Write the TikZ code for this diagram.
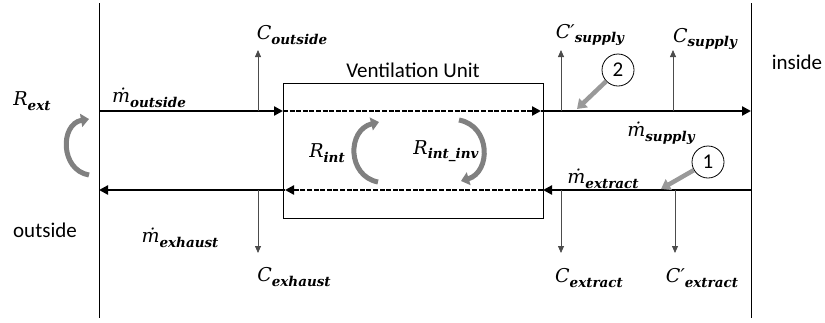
\documentclass[tikz,border=0pt]{standalone}
\usepackage{fontspec}
\setmainfont{Carlito}
\newfontfamily\symfont{DejaVu Serif}
\usetikzlibrary{arrows.meta}

% quantity with bold italic index
\newcommand{\qsym}[2]{{\symfont\itshape #1}\raisebox{-4.5pt}{\symfont\bfseries\itshape\fontsize{13.5}{15}\selectfont #2}}

\tikzset{
  flow/.style={line width=2.6pt, -{Triangle[length=9pt,width=9pt]}},
  dotflow/.style={flow, dash pattern=on 5pt off 1.6pt},
  conc/.style={line width=0.8pt, black!70, -{Triangle[length=7pt,width=6pt]}},
  turn/.style={line width=5pt, black!50, -{Triangle[length=8pt,width=13pt]}},
  pointer/.style={line width=4.5pt, black!40, -{Triangle[length=9pt,width=12pt]}},
  marker/.style={circle, draw, line width=0.8pt, minimum size=32pt, inner sep=0pt},
  qty/.style={inner sep=1pt, font=\fontsize{19}{22}\selectfont},
}

\begin{document}
\begin{tikzpicture}[x=1pt, y=-1pt, font=\fontsize{21}{25}\selectfont]
\useasboundingbox (0,0) rectangle (825,322);

% walls
\coordinate (OutTop) at (99,3);
\coordinate (OutBot) at (99,318);
\coordinate (InTop) at (751,3);
\coordinate (InBot) at (751,318);
\draw[line width=0.8pt] (OutTop) -- (OutBot);
\draw[line width=0.8pt] (InTop) -- (InBot);

% ventilation unit
\node[draw, line width=0.8pt, minimum width=260pt, minimum height=135pt, inner sep=0pt] (VU) at (413,150.5) {};
\node (VUlabel) at (413,70) {Ventilation Unit};

% supply side
\coordinate (SupA) at (99,111);
\coordinate (SupB) at (283,111);
\coordinate (SupC) at (541,111);
\coordinate (SupD) at (751,111);
\draw[flow] (SupA) -- (SupB);
\draw[dotflow] (SupB) -- (SupC);
\draw[flow] (SupC) -- (SupD);

% extract side
\coordinate (ExtA) at (751,190);
\coordinate (ExtB) at (543,190);
\coordinate (ExtC) at (285,190);
\coordinate (ExtD) at (99,190);
\draw[flow] (ExtA) -- (ExtB);
\draw[dotflow] (ExtB) -- (ExtC);
\draw[flow] (ExtC) -- (ExtD);

% concentrations
\coordinate (cOut) at (258,111);
\coordinate (cOutTip) at (258,50);
\coordinate (cExh) at (258,190);
\coordinate (cExhTip) at (258,253);
\coordinate (cSupP) at (561,111);
\coordinate (cSupPTip) at (561,50);
\coordinate (cSup) at (673,111);
\coordinate (cSupTip) at (673,50);
\coordinate (cExt) at (561,190);
\coordinate (cExtTip) at (561,253);
\coordinate (cExtP) at (675,190);
\coordinate (cExtPTip) at (675,253);
\draw[conc] (cOut) -- (cOutTip);
\draw[conc] (cExh) -- (cExhTip);
\draw[conc] (cSupP) -- (cSupPTip);
\draw[conc] (cSup) -- (cSupTip);
\draw[conc] (cExt) -- (cExtTip);
\draw[conc] (cExtP) -- (cExtPTip);

% labels
\node[qty] (Rext) at (32,101) {\qsym{R}{ext}};
\node[qty] (mOut) at (149,98) {\qsym{ṁ}{outside}};
\node (outside) at (45,230) {outside};
\node (inside) at (797,62) {inside};
\node[qty] (mExh) at (180,238) {\qsym{ṁ}{exhaust}};
\node[qty] (Cout) at (292,35) {\qsym{C}{outside}};
\node[qty] (Cexh) at (294,277) {\qsym{C}{exhaust}};
\node[qty] (Rint) at (327,153) {\qsym{R}{int}};
\node[qty] (Rinv) at (446,151) {\qsym{R}{int\_inv}};
\node[qty] (CsupP) at (590,35) {\qsym{C′}{supply}};
\node[qty] (Csup) at (705,39) {\qsym{C}{supply}};
\node[qty] (mSup) at (661,133) {\qsym{ṁ}{supply}};
\node[qty] (mExt) at (603,179) {\qsym{ṁ}{extract}};
\node[qty] (Cext) at (589,278) {\qsym{C}{extract}};
\node[qty] (CextP) at (702,278) {\qsym{C′}{extract}};

% recirculation
\coordinate (RextA) at (89,175);
\coordinate (RextB) at (89,119);
\draw[turn] (RextA) .. controls (60,170) and (60,124) .. (RextB);
\coordinate (RintA) at (378,182);
\coordinate (RintB) at (379,122);
\draw[turn] (RintA) .. controls (347,176) and (347,130) .. (RintB);
\coordinate (RinvA) at (459,120);
\coordinate (RinvB) at (461,181);
\draw[turn] (RinvA) .. controls (491,126) and (491,172) .. (RinvB);

% measuring points
\node[marker] (P2) at (618,70) {2};
\node[marker] (P1) at (708,162) {1};
\coordinate (P2hit) at (577,109);
\coordinate (P1hit) at (661,189);
\draw[pointer] (P2) -- (P2hit);
\draw[pointer] (P1) -- (P1hit);
\end{tikzpicture}
\end{document}
